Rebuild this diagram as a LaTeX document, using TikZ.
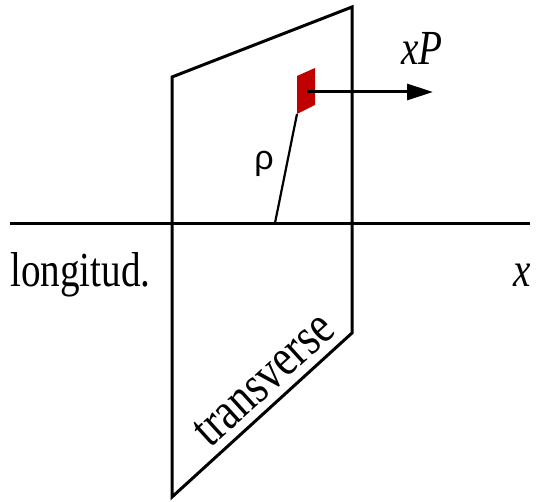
\documentclass[tikz,border=0pt]{standalone}
\usepackage{fontspec}
\setmainfont{Liberation Serif}
\newfontfamily\sansf{Liberation Sans}
\usetikzlibrary{arrows.meta}
\definecolor{patchred}{RGB}{192,0,0}
\newcommand{\cond}[1]{\scalebox{0.8}[1]{#1}}
\begin{document}
\begin{tikzpicture}[x=1pt,y=-1pt,
  edge/.style={line width=3pt,line join=miter},
  lbl/.style={inner sep=0pt,font=\fontsize{49}{49}\selectfont}]
\useasboundingbox (0,0) rectangle (536,502);
% plane
\coordinate (tl) at (172,77);
\coordinate (tr) at (352,7);
\coordinate (br) at (352,333);
\coordinate (bl) at (172,497);
\draw[edge] (tl) -- (tr) -- (br) -- (bl) -- cycle;
% axis
\coordinate (axl) at (10,224);
\coordinate (axr) at (530,224);
\draw[line width=3pt] (axl) -- (axr);
% patch
\fill[patchred] (297,76) -- (315,68) -- (315,105) -- (297,114) -- cycle;
\coordinate (pb) at (297,114);
\coordinate (pf) at (275,223);
\draw[line width=2.2pt] (pb) -- (pf);
\coordinate (as) at (307,92);
\coordinate (ae) at (433,92);
\draw[line width=3pt,-{Triangle[length=26pt,width=16pt]}] (as) -- (ae);
% labels
\node[lbl,anchor=base] (xp) at (422,65) {\cond{\itshape xP}};
\node[inner sep=0pt,anchor=base,font=\sansf\fontsize{34}{34}\selectfont] (rho) at (264,170) {ρ};
\node[lbl,anchor=base west] (lon) at (10,287) {\cond{longitud.}};
\node[lbl,anchor=base] (xl) at (522,287) {\cond{\itshape x}};
\node[inner sep=0pt,font=\fontsize{53}{53}\selectfont,rotate=42.3] (tv) at (264,380) {\cond{transverse}};
\end{tikzpicture}
\end{document}
